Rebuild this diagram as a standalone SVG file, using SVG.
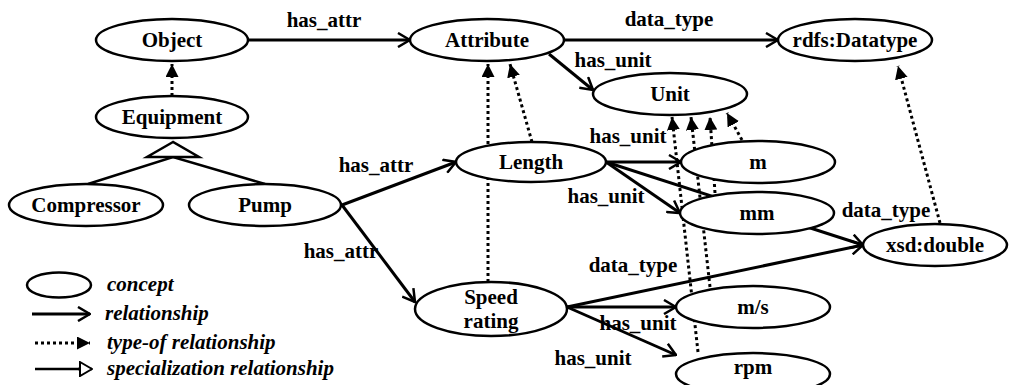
<svg xmlns="http://www.w3.org/2000/svg" width="1009" height="385" viewBox="0 0 1009 385">
<defs>
<marker id="open" viewBox="0 0 14 16" refX="13" refY="8" markerWidth="14" markerHeight="16" markerUnits="userSpaceOnUse" orient="auto">
<path d="M1,1 L13,8 L1,15" fill="none" stroke="#000" stroke-width="2.5"/>
</marker>
<marker id="filled" viewBox="0 0 13 13" refX="13" refY="6.5" markerWidth="13" markerHeight="13" markerUnits="userSpaceOnUse" orient="auto">
<path d="M0,0 L13,6.5 L0,13 z" fill="#000"/>
</marker>
<marker id="tri" viewBox="0 0 14 16" refX="13" refY="8" markerWidth="14" markerHeight="16" markerUnits="userSpaceOnUse" orient="auto">
<path d="M1,1 L13,8 L1,15 z" fill="#fff" stroke="#000" stroke-width="2"/>
</marker>
</defs>
<style>
.n ellipse{fill:#fff;stroke:#000;stroke-width:2.5}
text{font-family:'Liberation Serif','DejaVu Serif',serif;font-weight:700;font-size:21px;fill:#000}
.t{text-anchor:middle}
.rel{stroke:#000;stroke-width:3;fill:none;marker-end:url(#open)}
.dot{stroke:#000;stroke-width:3;fill:none;stroke-dasharray:3 3;marker-end:url(#filled)}
.plain{stroke:#000;stroke-width:2.5;fill:none}
.lg{font-style:italic}
</style>
<rect width="1009" height="385" fill="#fff"/>
<g id="connectors">
<line class="rel" x1="248" y1="40" x2="410" y2="40"/>
<line class="rel" x1="563" y1="40" x2="778" y2="40"/>
<line class="rel" x1="549" y1="54" x2="593" y2="90"/>
<line class="dot" x1="172" y1="96" x2="172" y2="64"/>
<line class="dot" x1="488" y1="282" x2="488" y2="64"/>
<line class="dot" x1="532" y1="142" x2="510" y2="64"/>
<line class="dot" x1="698" y1="352" x2="672" y2="117"/>
<line class="dot" x1="710" y1="287" x2="691" y2="117"/>
<line class="dot" x1="715" y1="193" x2="710" y2="117"/>
<line class="dot" x1="742" y1="140" x2="727" y2="113"/>
<line class="dot" x1="940" y1="223" x2="898" y2="66"/>
<line class="rel" x1="342" y1="205" x2="456" y2="162"/>
<line class="rel" x1="342" y1="205" x2="415" y2="302"/>
<line class="rel" x1="606" y1="162" x2="681" y2="162"/>
<line class="rel" x1="606" y1="162" x2="680" y2="213"/>
<line class="rel" x1="606" y1="162" x2="863" y2="245"/>
<line class="rel" x1="567" y1="307" x2="863" y2="245"/>
<line class="rel" x1="567" y1="307" x2="676" y2="307"/>
<line class="rel" x1="567" y1="307" x2="676" y2="355"/>
<path class="plain" d="M88,184 L173,157 L265,184"/>
<path d="M173,142 L147,157 L199,157 z" fill="#fff" stroke="#000" stroke-width="2.5"/>
</g>
<g id="labels">
<text class="t" x="324" y="27">has_attr</text>
<text class="t" x="669" y="26">data_type</text>
<text class="t" x="613" y="67">has_unit</text>
<text class="t" x="628" y="143">has_unit</text>
<text class="t" x="606" y="203">has_unit</text>
<text class="t" x="886" y="217">data_type</text>
<text class="t" x="376" y="172">has_attr</text>
<text class="t" x="341" y="258">has_attr</text>
<text class="t" x="633" y="272">data_type</text>
<text class="t" x="638" y="330">has_unit</text>
<text class="t" x="593" y="365">has_unit</text>
</g>
<g id="n-object" class="n"><ellipse cx="172" cy="40" rx="76" ry="21"/><text class="t" x="172" y="47">Object</text></g>
<g id="n-equipment" class="n"><ellipse cx="172" cy="117" rx="76" ry="21"/><text class="t" x="172" y="124">Equipment</text></g>
<g id="n-compressor" class="n"><ellipse cx="86" cy="205" rx="77" ry="21"/><text class="t" x="86" y="212">Compressor</text></g>
<g id="n-pump" class="n"><ellipse cx="265" cy="205" rx="76" ry="21"/><text class="t" x="265" y="212">Pump</text></g>
<g id="n-attribute" class="n"><ellipse cx="487" cy="40" rx="77" ry="21"/><text class="t" x="487" y="47">Attribute</text></g>
<g id="n-rdfs" class="n"><ellipse cx="855" cy="40" rx="77" ry="21"/><text class="t" x="855" y="47">rdfs:Datatype</text></g>
<g id="n-unit" class="n"><ellipse cx="670" cy="94" rx="77" ry="21"/><text class="t" x="670" y="101">Unit</text></g>
<g id="n-length" class="n"><ellipse cx="531" cy="162" rx="75" ry="20"/><text class="t" x="531" y="169">Length</text></g>
<g id="n-m" class="n"><ellipse cx="758" cy="162" rx="77" ry="21"/><text class="t" x="758" y="169">m</text></g>
<g id="n-mm" class="n"><ellipse cx="757" cy="213" rx="77" ry="21"/><text class="t" x="757" y="220">mm</text></g>
<g id="n-xsd" class="n"><ellipse cx="935" cy="245" rx="72" ry="21"/><text class="t" x="935" y="252">xsd:double</text></g>
<g id="n-speed" class="n"><ellipse cx="491" cy="309" rx="76" ry="27"/><text class="t" x="491" y="304">Speed</text><text class="t" x="491" y="328">rating</text></g>
<g id="n-ms" class="n"><ellipse cx="753" cy="307" rx="77" ry="21"/><text class="t" x="753" y="314">m/s</text></g>
<g id="n-rpm" class="n"><ellipse cx="753" cy="374" rx="77" ry="21"/><text class="t" x="753" y="374">rpm</text></g>
<g id="legend">
<ellipse cx="59" cy="285" rx="32" ry="12.5" fill="#fff" stroke="#000" stroke-width="2.5"/>
<text class="lg" x="107" y="291">concept</text>
<line class="rel" x1="32" y1="314" x2="90" y2="314"/>
<text class="lg" x="105" y="320">relationship</text>
<line class="dot" x1="35" y1="343" x2="90" y2="343"/>
<text class="lg" x="107" y="349">type-of relationship</text>
<line class="plain" x1="35" y1="369" x2="80" y2="369"/>
<line stroke="#000" stroke-width="2.5" x1="78" y1="369" x2="92" y2="369" marker-end="url(#tri)"/>
<text class="lg" x="107" y="375">specialization relationship</text>
</g>
</svg>
